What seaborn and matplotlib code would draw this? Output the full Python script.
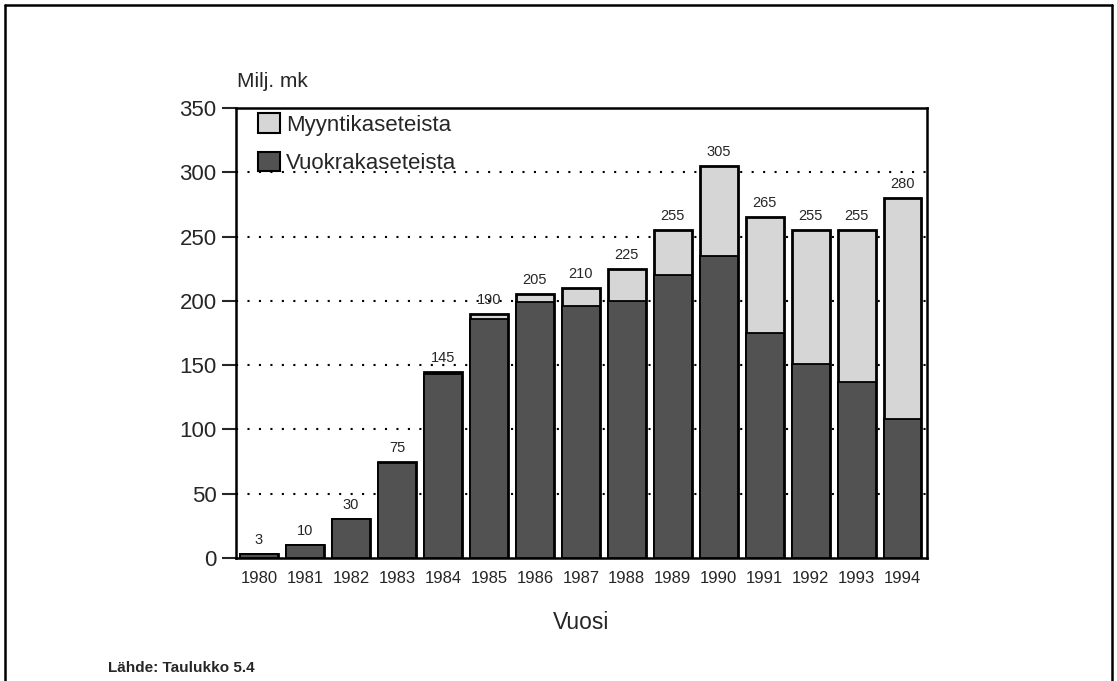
import numpy as np
import pandas as pd
import matplotlib
matplotlib.use("Agg")
import matplotlib.pyplot as plt
from matplotlib.lines import Line2D
from matplotlib.patches import Patch
import seaborn as sns

# Videokasettien myynti ja vuokraus, milj. mk
vuodet = ["1980", "1981", "1982", "1983", "1984", "1985", "1986", "1987",
          "1988", "1989", "1990", "1991", "1992", "1993", "1994"]
yhteensa = [3, 10, 30, 75, 145, 190, 205, 210, 225, 255, 305, 265, 255, 255, 280]
vuokra = [3, 10, 30, 74, 143, 186, 199, 196, 200, 220, 235, 175, 151, 137, 108]

df = pd.DataFrame({"vuosi": vuodet, "yhteensa": yhteensa, "vuokra": vuokra})

sns.set_style("white")
plt.rcParams["font.family"] = ["Liberation Sans", "DejaVu Sans"]

fig = plt.figure(figsize=(11.17, 6.81), dpi=100)
ax = fig.add_axes([0.2113, 0.1806, 0.6186, 0.6608])

vaalea = "#d6d6d6"
tumma = "#525252"

sns.barplot(data=df, x="vuosi", y="yhteensa", color=vaalea, saturation=1,
            edgecolor="black", linewidth=2.0, width=0.82, ax=ax, zorder=3)
sns.barplot(data=df, x="vuosi", y="vuokra", color=tumma, saturation=1,
            edgecolor="black", linewidth=1.3, width=0.82, ax=ax, zorder=4)

for i, v in enumerate(yhteensa):
    ax.annotate(str(v), (i, v), xytext=(0, 5), textcoords="offset points",
                ha="center", va="bottom", fontsize=10.5)

ax.set_ylim(0, 350)
ax.set_xlim(-0.5, 14.53)
ax.set_yticks(range(0, 351, 50))
for y in range(50, 301, 50):
    ax.axhline(y, color="black", linestyle=(0, (1, 4.5)), linewidth=1.5, zorder=1)

ax.tick_params(axis="y", direction="out", length=10, width=1.5, labelsize=16,
               pad=4, left=True)
ax.tick_params(axis="x", length=0, labelsize=12, pad=9)
for s in ax.spines.values():
    s.set_visible(True)
    s.set_color("black")
    s.set_linewidth(1.8)

ax.set_xlabel("Vuosi", fontsize=16.5, labelpad=18)
ax.set_ylabel("")
fig.text(237 / 1117, 1 - 87 / 681, "Milj. mk", fontsize=15, ha="left", va="baseline")
fig.text(108 / 1117, 1 - 672 / 681, "Lähde: Taulukko 5.4", fontsize=11,
         fontweight="bold", ha="left", va="baseline")

handles = [Patch(facecolor=vaalea, edgecolor="black", linewidth=1.5),
           Patch(facecolor=tumma, edgecolor="black", linewidth=1.5)]
ax.legend(handles, ["Myyntikaseteista", "Vuokrakaseteista"], loc="upper left",
          bbox_to_anchor=(22 / 691, 0.988), frameon=False, fontsize=16,
          borderpad=0, borderaxespad=0,
          handlelength=1.0, handleheight=1.0, handletextpad=0.25, labelspacing=0.7)

# kehys kuvan ympärillä
fx0, fx1, fy1 = 4.5 / 1117, 1112 / 1117, 1 - 5 / 681
fig.add_artist(Line2D([fx0, fx0], [0, fy1], color="black", linewidth=1.8))
fig.add_artist(Line2D([fx0, fx1], [fy1, fy1], color="black", linewidth=1.8))
fig.add_artist(Line2D([fx1, fx1], [0, fy1], color="black", linewidth=1.8))

fig.savefig("out.png", dpi=100)
